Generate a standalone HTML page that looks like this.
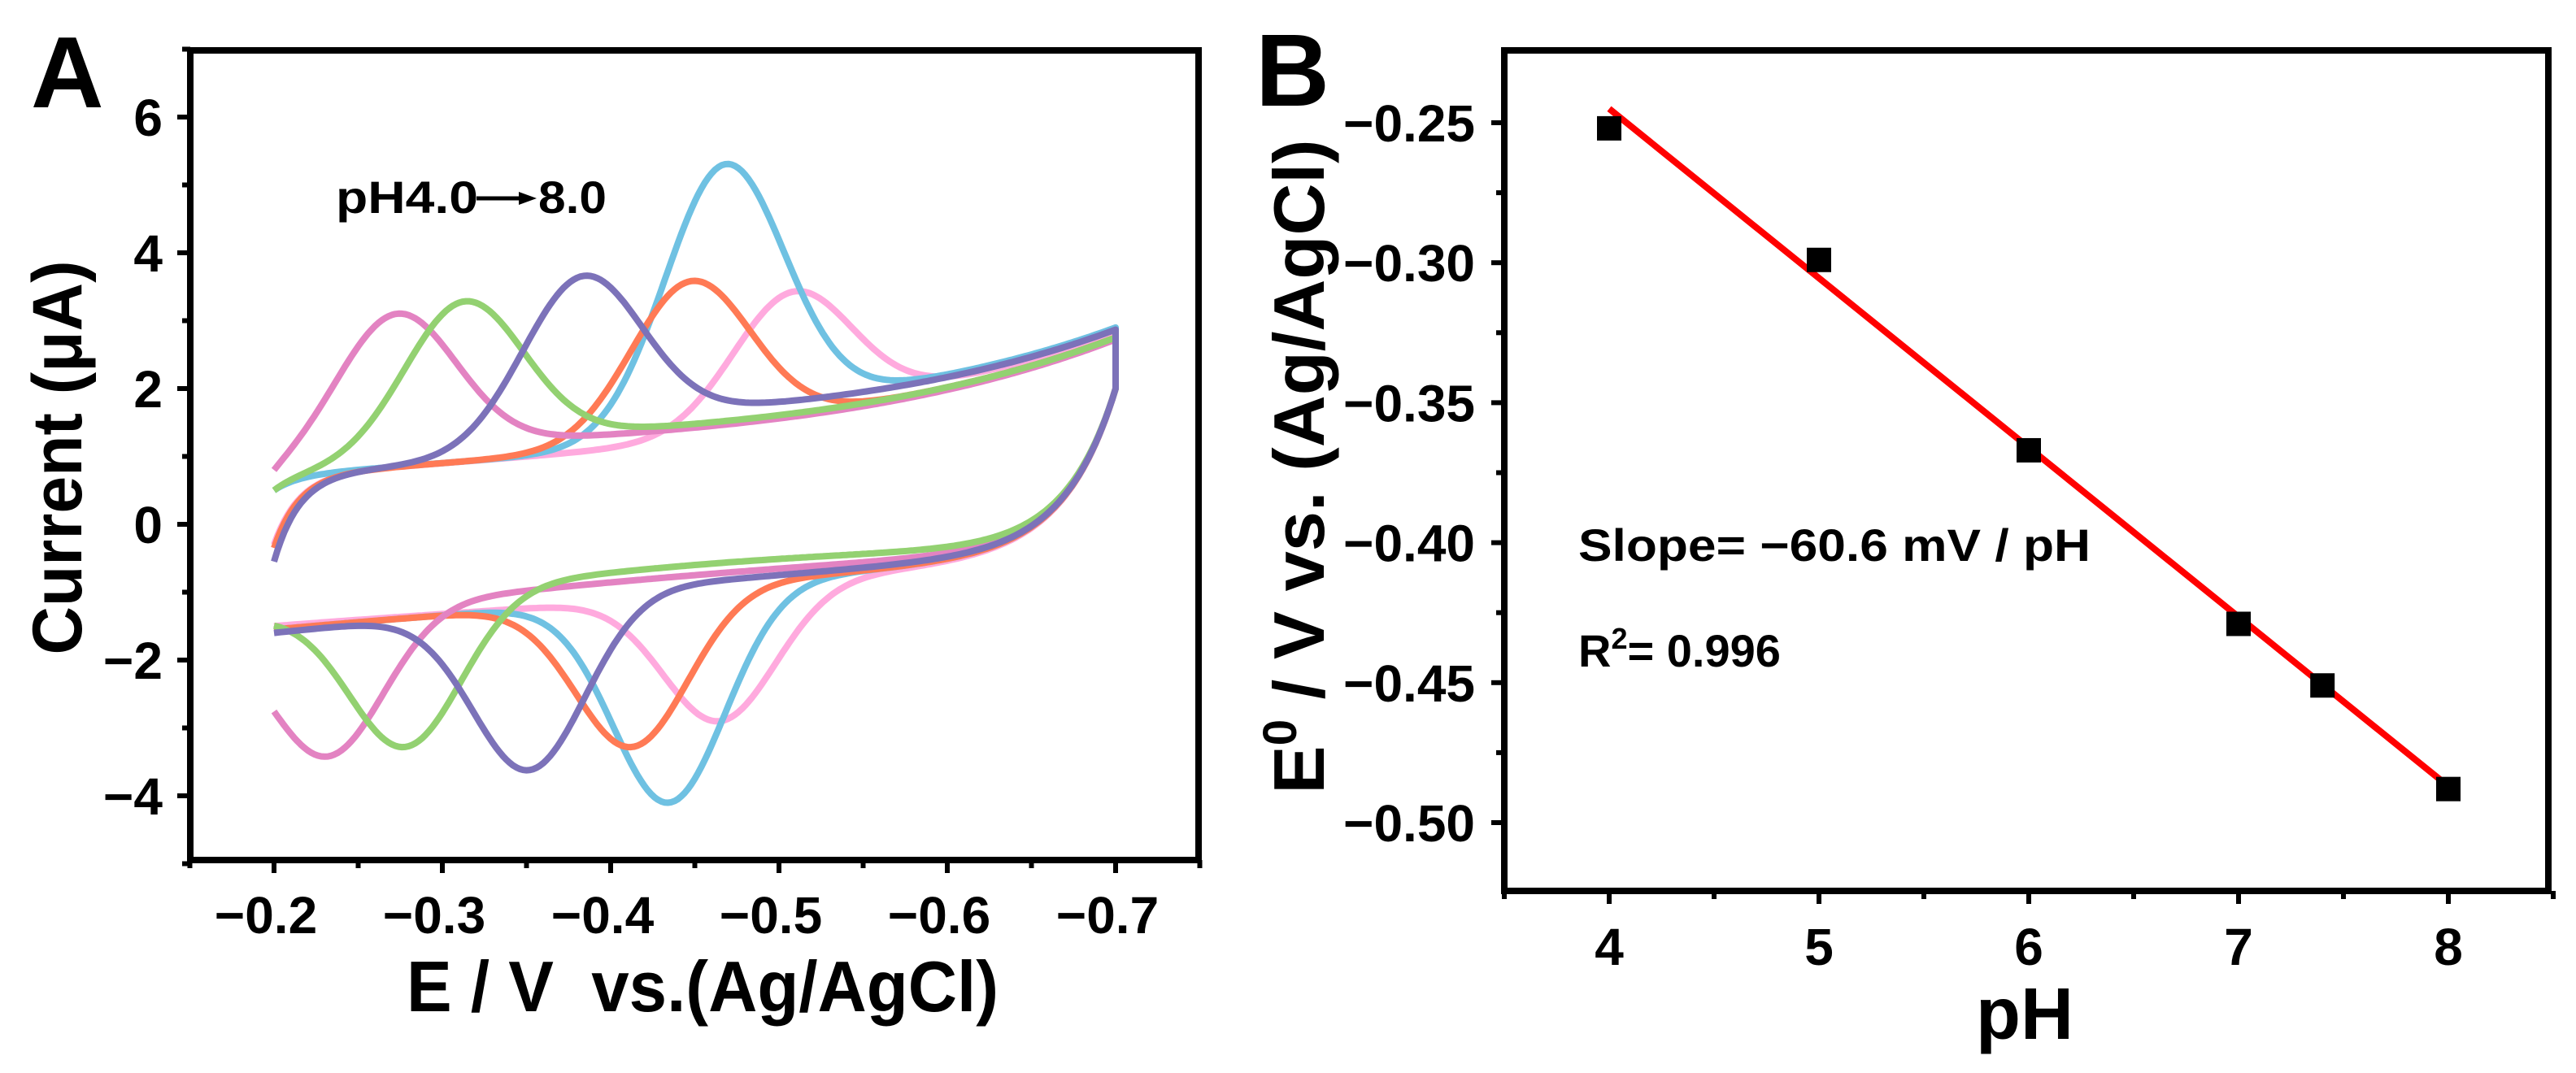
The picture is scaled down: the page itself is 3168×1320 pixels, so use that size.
<!DOCTYPE html>
<html><head><meta charset="utf-8"><style>
html,body{margin:0;padding:0;background:#fff;}
svg{display:block;font-family:"Liberation Sans",Arial,sans-serif;font-weight:bold;}
</style></head><body>
<svg id="fig" width="3168" height="1320" viewBox="0 0 3168 1320" xmlns="http://www.w3.org/2000/svg">
<rect width="3168" height="1320" fill="#fff"/>
<g id="panelA">
 <text x="38" y="132" font-size="124">A</text>
 <g id="curvesA"></g>
 <rect x="234" y="62" width="1240" height="996" fill="none" stroke="#000" stroke-width="8"/>
 <g id="ticksA"></g>
 <text x="413" y="262" font-size="56" textLength="175" lengthAdjust="spacingAndGlyphs">pH4.0</text>
 <line x1="586" y1="244" x2="640" y2="244" stroke="#000" stroke-width="5"/>
 <polygon points="638,236 660,244 638,252" fill="#000"/>
 <text x="662" y="262" font-size="56" textLength="84" lengthAdjust="spacingAndGlyphs">8.0</text>
 <text x="500" y="1244" font-size="88" textLength="728" lengthAdjust="spacingAndGlyphs">E / V&#160; vs.(Ag/AgCl)</text>
 <text transform="translate(100,563) rotate(-90)" text-anchor="middle" font-size="86" textLength="485" lengthAdjust="spacingAndGlyphs">Current (μA)</text>
</g>
<g id="panelB">
 <text x="1544" y="130" font-size="126">B</text>
 <g id="marksB"></g>
 <rect x="1850" y="62" width="1284" height="1034" fill="none" stroke="#000" stroke-width="8"/>
 <g id="ticksB"></g>
 <text x="1941" y="690" font-size="56" textLength="630" lengthAdjust="spacingAndGlyphs">Slope= −60.6 mV / pH</text>
 <text x="1941" y="820" font-size="56">R<tspan font-size="36" dy="-22">2</tspan><tspan dy="22">= 0.996</tspan></text>
 <text x="2490" y="1278" text-anchor="middle" font-size="90">pH</text>
 <text transform="translate(1628,574) rotate(-90)" text-anchor="middle" font-size="88" textLength="805" lengthAdjust="spacingAndGlyphs">E<tspan font-size="58" dy="-34">0</tspan><tspan dy="34"> / V vs. (Ag/AgCl)</tspan></text>
</g>
</svg>
<script>
// ---------- Panel A data ----------
const phLabels = ["4.0","5.0","6.0","7.0","7.4","8.0"];
const curveColors = ["#e383c2","#93d171","#7c72b9","#ff7a55","#6fc1e2","#ffaade"];
const anodicE = [-0.272,-0.312,-0.382,-0.447,-0.467,-0.507];
const anodicI = [3.1,3.28,3.65,3.58,5.3,3.42];
const anodicTail = [0.3,0.35,0.55,0.25,0.5,0.35];
const upStart = [0.8,0.5,-0.55,-0.35,0.5,-0.3];
const cathodicE = [-0.232,-0.278,-0.352,-0.413,-0.435,-0.465];
const cathodicI = [-3.42,-3.28,-3.62,-3.28,-4.1,-2.9];
const cathodicTail = [-0.05,0.05,-0.2,-0.15,-0.15,-0.1];
const lowerShift = [0.0,0.15,-0.1,-0.15,-0.15,-0.2];
const drawOrder = [5,4,3,0,1,2];
const xTicksA = [-0.2,-0.3,-0.4,-0.5,-0.6,-0.7];
const xTickLabelsA = ["−0.2","−0.3","−0.4","−0.5","−0.6","−0.7"];
const xMinorA = [-0.15,-0.25,-0.35,-0.45,-0.55,-0.65,-0.75];
const yTicksA = [6,4,2,0,-2,-4];
const yTickLabelsA = ["6","4","2","0","−2","−4"];
const yMinorA = [7,5,3,1,-1,-3,-5];
// ---------- Panel B data ----------
const phValues = [4,5,6,7,7.4,8];
const e0Values = [-0.252,-0.299,-0.367,-0.429,-0.451,-0.488];
const fitPH = [4,8];
const fitE = [-0.245,-0.487];
const xTicksB = [4,5,6,7,8];
const xTickLabelsB = ["4","5","6","7","8"];
const xMinorB = [3.5,4.5,5.5,6.5,7.5,8.5];
const yTicksB = [-0.25,-0.30,-0.35,-0.40,-0.45,-0.50];
const yTickLabelsB = ["−0.25","−0.30","−0.35","−0.40","−0.45","−0.50"];
const yMinorB = [-0.275,-0.325,-0.375,-0.425,-0.475,-0.525];

const NS="http://www.w3.org/2000/svg";
function mk(tag,attrs,parent){const e=document.createElementNS(NS,tag);for(const k in attrs)e.setAttribute(k,attrs[k]);parent.appendChild(e);return e;}
const xA=v=>337+(-v-0.2)/0.1*207;
const yA=i=>645-i*83.5;
const xB=p=>1979+(p-4)*258;
const yB=e=>151+(-0.25-e)/0.05*172.2;

function baseUp(x){const t=(x-0.2)/0.5;return 0.72+0.9*t+1.0*Math.pow(t,4);}
function baseDn(x){const t=(x-0.2)/0.5;return -1.4+1.6*t-0.6*t*t+2.4*Math.exp(-(0.7-x)/0.03);}
function sig(z){return 1/(1+Math.exp(-z));}
function upRaw(k,x){const Ep=-anodicE[k],tl=anodicTail[k];const A=anodicI[k]-baseUp(Ep)-tl*0.5;
 return baseUp(x)+A*Math.exp(-Math.pow((x-Ep)/0.05,2))+tl*sig((x-Ep)/0.025)*Math.exp(-Math.max(0,x-Ep)/0.4);}
function up(k,x){return upRaw(k,x)+(upStart[k]-upRaw(k,0.2))*Math.exp(-(x-0.2)/0.015);}
function dnBase(k,x){return baseDn(x)+lowerShift[k]*Math.sin(Math.PI*(x-0.2)/0.5);}
function dn(k,x){const Ec=-cathodicE[k],tl=cathodicTail[k];const A=cathodicI[k]-dnBase(k,Ec)-tl*0.5;
 return dnBase(k,x)+A*Math.exp(-Math.pow((x-Ec)/0.047,2))+tl*sig((Ec-x)/0.025);}

const gC=document.getElementById('curvesA');
drawOrder.forEach(k=>{
 const pts=[];
 for(let i=0;i<=250;i++){const x=0.2+i*0.002;pts.push(xA(-x).toFixed(1)+","+yA(up(k,x)).toFixed(1));}
 for(let i=250;i>=0;i--){const x=0.2+i*0.002;pts.push(xA(-x).toFixed(1)+","+yA(dn(k,x)).toFixed(1));}
 const pl=mk('polyline',{points:pts.join(' '),fill:'none',stroke:curveColors[k],'stroke-width':8,'stroke-linejoin':'round'},gC);
 
 
});

const tA=document.getElementById('ticksA');
xTicksA.forEach((v,i)=>{
 const l=mk('line',{x1:xA(v),x2:xA(v),y1:1058,y2:1074,stroke:'#000','stroke-width':6},tA);
 
 
 const t=mk('text',{x:xA(v)-10,y:1148,'text-anchor':'middle','font-size':64},tA);t.textContent=xTickLabelsA[i];
 
 
});
xMinorA.forEach(v=>{const l=mk('line',{x1:xA(v),x2:xA(v),y1:1058,y2:1068,stroke:'#000','stroke-width':6},tA);
 
 });
yTicksA.forEach((v,i)=>{
 const l=mk('line',{x1:218,x2:234,y1:yA(v),y2:yA(v),stroke:'#000','stroke-width':6},tA);
 
 
 const t=mk('text',{x:200,y:yA(v)+23,'text-anchor':'end','font-size':64},tA);t.textContent=yTickLabelsA[i];
 
 
});
yMinorA.forEach(v=>{const l=mk('line',{x1:224,x2:234,y1:yA(v),y2:yA(v),stroke:'#000','stroke-width':6},tA);
 
 });

const gB=document.getElementById('marksB');
const fit=mk('line',{x1:xB(fitPH[0]),y1:yB(fitE[0]),x2:xB(fitPH[1]),y2:yB(fitE[1]),stroke:'#ff0000','stroke-width':8},gB);


phValues.forEach((p,i)=>{
 const r=mk('rect',{x:xB(p)-15,y:yB(e0Values[i])-15,width:30,height:30,fill:'#000'},gB);
 
 
});
const tB=document.getElementById('ticksB');
xTicksB.forEach((v,i)=>{
 const l=mk('line',{x1:xB(v),x2:xB(v),y1:1096,y2:1112,stroke:'#000','stroke-width':6},tB);
 
 
 const t=mk('text',{x:xB(v),y:1187,'text-anchor':'middle','font-size':64},tB);t.textContent=xTickLabelsB[i];
 
 
});
xMinorB.forEach(v=>{const l=mk('line',{x1:xB(v),x2:xB(v),y1:1096,y2:1106,stroke:'#000','stroke-width':6},tB);
 
 });
yTicksB.forEach((v,i)=>{
 const l=mk('line',{x1:1834,x2:1850,y1:yB(v),y2:yB(v),stroke:'#000','stroke-width':6},tB);
 
 
 const t=mk('text',{x:1814,y:yB(v)+23,'text-anchor':'end','font-size':64},tB);t.textContent=yTickLabelsB[i];
 
 
});
yMinorB.forEach(v=>{if(yB(v)>1096)return;const l=mk('line',{x1:1840,x2:1850,y1:yB(v),y2:yB(v),stroke:'#000','stroke-width':6},tB);
 
 });
</script>
</body></html>
